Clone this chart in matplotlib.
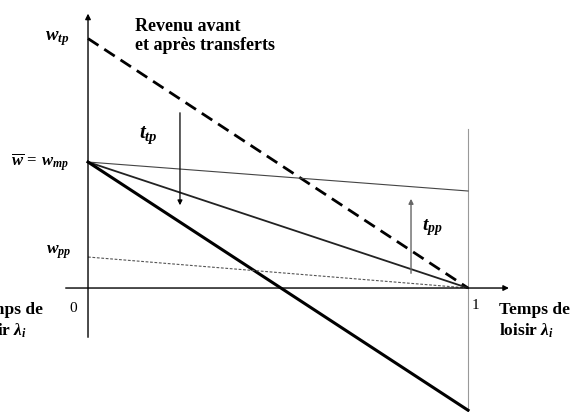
import matplotlib
matplotlib.use("Agg")
import matplotlib.pyplot as plt

plt.rcParams['font.family'] = ['Liberation Serif', 'DejaVu Serif']
plt.rcParams['mathtext.fontset'] = 'custom'
plt.rcParams['mathtext.rm'] = 'Liberation Serif:bold'
plt.rcParams['mathtext.it'] = 'Liberation Serif:italic:bold'
plt.rcParams['mathtext.bf'] = 'Liberation Serif:bold'

# leisure time share on x, income on y
leisure = [0, 1]
w_bar = 1.0          # w_mp
w_tp = 1.98
w_pp = 0.246
flat_end = 0.77      # thin line at leisure = 1
steep_end = -0.97    # thick line at leisure = 1

fig = plt.figure(figsize=(5.71, 4.12), dpi=100)
ax = fig.add_axes([0, 0, 1, 1])
ax.set_xlim(-0.2316, 1.271)
ax.set_ylim(-0.984, 2.286)
ax.axis('off')

# axes
ax.annotate('', xy=(-0.0, 2.2), xytext=(0, -0.413),
            arrowprops=dict(arrowstyle='-|>', color='black', lw=1.0, mutation_scale=8))
ax.annotate('', xy=(1.115, 0), xytext=(-0.066, 0),
            arrowprops=dict(arrowstyle='-|>', color='black', lw=1.0, mutation_scale=8))
ax.plot([1, 1], [1.262, -0.968], color='#999999', lw=0.8)

# budget lines
ax.plot(leisure, [w_tp, 0], color='black', lw=2.0, ls=(0, (4.5, 2.5)))
ax.plot(leisure, [w_bar, flat_end], color='#444444', lw=0.8)
ax.plot(leisure, [w_bar, 0], color='#222222', lw=1.3)
ax.plot(leisure, [w_bar, steep_end], color='black', lw=2.2)
ax.plot(leisure, [w_pp, 0], color='#555555', lw=0.8, ls=(0, (2.5, 1.5)))

# transfer arrows
ax.annotate('', xy=(0.242, 0.635), xytext=(0.242, 1.413),
            arrowprops=dict(arrowstyle='-|>', color='black', lw=0.9, mutation_scale=7))
ax.annotate('', xy=(0.85, 0.73), xytext=(0.85, 0.095),
            arrowprops=dict(arrowstyle='-|>', color='#666666', lw=1.0, mutation_scale=7))

# labels
ax.text(-0.05, w_tp, r'$w_{tp}$', ha='right', va='center', fontsize=13.5)
ax.text(-0.05, w_bar, r'$\overline{w}\,=\,w_{mp}$', ha='right', va='center', fontsize=12)
ax.text(-0.045, w_pp + 0.04, r'$w_{pp}$', ha='right', va='center', fontsize=12.5)
ax.text(0.16, 1.21, r'$t_{tp}$', ha='center', va='center', fontsize=15)
ax.text(0.905, 0.48, r'$t_{pp}$', ha='center', va='center', fontsize=14)
ax.text(-0.04, -0.16, '0', ha='center', va='center', fontsize=11)
ax.text(1.02, -0.14, '1', ha='center', va='center', fontsize=11)
ax.text(0.124, 2.0, 'Revenu avant\net après transferts', ha='left', va='center',
        fontsize=13, fontweight='bold', linespacing=1.22)
ax.text(1.0816, -0.262, 'Temps de\nloisir $\\lambda_i$', ha='left', va='center',
        fontsize=12.5, fontweight='bold', linespacing=1.25)
ax.text(-0.118, -0.262, 'Temps de\nloisir $\\lambda_i$', ha='right', va='center',
        multialignment='left', fontsize=12.5, fontweight='bold', linespacing=1.25)

fig.savefig('out.png', dpi=100)
